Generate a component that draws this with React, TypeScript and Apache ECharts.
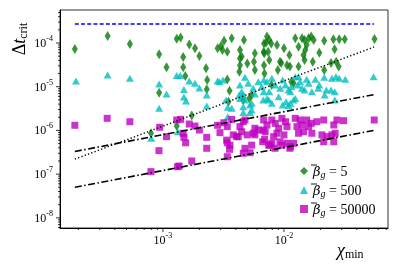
import React, { useEffect, useRef } from 'react';
import * as echarts from 'echarts';

// axis ranges
const X_MIN = 1.41e-4;
const X_MAX = 7.24e-2;
const Y_MIN = 5.85e-9;
const Y_MAX = 5.69e-4;

const xMajorTicks = [1e-3, 1e-2];
const yMajorTicks = [1e-8, 1e-7, 1e-6, 1e-5, 1e-4];
const minorMultipliers = [2, 3, 4, 5, 6, 7, 8, 9];
const xDecades = [1e-4, 1e-3, 1e-2];
const yDecades = [1e-9, 1e-8, 1e-7, 1e-6, 1e-5, 1e-4];

const legendNames = ['5', '500', '50000'];

// beta_g = 5 (green diamonds)
const beta5X = [1.87e-4, 3.49e-4, 5.33e-4, 9.3e-4, 1.07e-3, 9.3e-4, 1.30e-3, 1.40e-3, 1.65e-3, 1.84e-3,
  1.47e-3, 2.0e-3, 1.47e-3, 1.53e-3, 2.27e-3, 2.32e-3, 2.3e-3, 2.83e-3, 1.73e-3, 7.96e-4,
  1.30e-3, 3.02e-3, 3.2e-3, 3.7e-3, 3.4e-3, 3.4e-3, 3.55e-3, 3.48e-3, 4.67e-3, 4.33e-3,
  4.47e-3, 4.33e-3, 4.28e-3, 4.98e-3, 5.75e-3, 5.65e-3, 5.75e-3, 6.84e-3, 6.87e-3, 4.61e-3,
  5.41e-3, 7.24e-3, 7.56e-3, 7.1e-3, 7.85e-3, 8.75e-3, 6.8e-3, 7.4e-3, 1.0e-2, 1.11e-2,
  1.24e-2, 1.32e-2, 1.41e-2, 1.48e-2, 1.6e-2, 1.68e-2, 1.76e-2, 1.54e-2, 1.5e-2, 1.45e-2,
  1.48e-2, 1.73e-2, 1.96e-2, 2.15e-2, 2.56e-2, 2.86e-2, 3.18e-2, 2.62e-2, 2.45e-2, 2.7e-2,
  2.83e-2, 2.15e-2, 1.32e-2, 1.06e-2, 1.12e-2, 9.5e-3, 8.9e-3, 7.56e-3, 6.9e-3, 5.6e-2,
  1.15e-2, 1.2e-2, 7.9e-3, 9.27e-3, 5.17e-3, 3.1e-3, 4.33e-3, 6.84e-3];
const beta5Y = [7.3e-5, 1.45e-4, 9.5e-5, 5.5e-5, 2.78e-5, 7.3e-6, 1.25e-4, 1.34e-4, 9.2e-5, 7.6e-5,
  4.8e-5, 5.04e-5, 2.8e-5, 1.76e-5, 2.64e-5, 1.42e-5, 8.8e-6, 7.6e-5, 2.2e-6, 8.6e-7,
  1.26e-6, 8.5e-5, 1.13e-4, 1.28e-4, 6.3e-5, 1.47e-5, 8.1e-6, 4.5e-6, 1.17e-4, 6.9e-5,
  4.9e-5, 3.1e-5, 2.2e-5, 3.4e-5, 5.8e-5, 3.7e-5, 2.41e-5, 9.8e-5, 5.8e-5, 4.96e-6,
  6.5e-6, 1.4e-4, 1.17e-4, 1.02e-4, 9.8e-5, 9.0e-5, 6.3e-5, 6.3e-5, 7.6e-5, 5.3e-5,
  1.28e-4, 8.2e-5, 1.28e-4, 1.17e-4, 1.28e-4, 1.4e-4, 1.17e-4, 9.0e-5, 6.9e-5, 5.3e-5,
  4.1e-5, 3.7e-5, 6.0e-5, 1.13e-4, 1.22e-4, 1.22e-4, 1.22e-4, 7.2e-5, 3.5e-5, 3.7e-5,
  2.9e-5, 2.41e-5, 2.9e-5, 3.1e-5, 2.9e-5, 3.5e-5, 2.41e-5, 4.1e-5, 2.0e-5, 1.23e-4,
  1.3e-5, 1.2e-5, 1.1e-5, 3.7e-5, 5.4e-6, 6.9e-5, 4.4e-5, 3.1e-5];

// beta_g = 500 (cyan triangles)
const beta500X = [1.91e-4, 3.49e-4, 5.33e-4, 9.3e-4, 1.07e-3, 9.3e-4, 1.30e-3, 1.39e-3, 1.49e-3, 1.49e-3,
  1.55e-3, 1.65e-3, 1.84e-3, 2.0e-3, 2.3e-3, 2.3e-3, 2.83e-3, 8.0e-4, 1.33e-3, 2.93e-3,
  3.13e-3, 3.32e-3, 3.43e-3, 3.43e-3, 3.7e-3, 4.33e-3, 4.47e-3, 4.27e-3, 4.61e-3, 4.76e-3,
  5.07e-3, 5.57e-3, 5.75e-3, 6.13e-3, 5.24e-3, 6.54e-3, 6.74e-3, 4.61e-3, 5.24e-3, 5.41e-3,
  6.8e-3, 7.24e-3, 6.8e-3, 7.56e-3, 7.24e-3, 7.94e-3, 8.47e-3, 9.31e-3, 9.75e-3, 1.03e-2,
  1.09e-2, 1.13e-2, 1.15e-2, 1.24e-2, 1.32e-2, 1.36e-2, 1.30e-2, 1.41e-2, 1.48e-2, 1.54e-2,
  1.6e-2, 1.70e-2, 1.82e-2, 1.96e-2, 2.15e-2, 2.17e-2, 2.49e-2, 2.69e-2, 2.86e-2, 3.21e-2,
  2.45e-2, 2.63e-2, 2.63e-2, 7.48e-3, 9.04e-3, 9.75e-3, 1.04e-2, 1.13e-2, 1.20e-2, 1.24e-2,
  7.94e-3, 1.09e-2, 5.5e-2, 4.33e-3, 4.76e-3, 4.61e-3, 5.41e-3, 1.92e-2, 2.24e-2];
const beta500Y = [1.35e-5, 1.85e-5, 1.56e-5, 1.15e-5, 6.8e-6, 3.2e-6, 1.8e-5, 1.8e-5, 8.6e-6, 5.8e-6,
  4.7e-6, 1.35e-5, 1.2e-5, 9.3e-6, 6.5e-6, 3.6e-6, 1.35e-5, 6.6e-7, 9.3e-7, 1.3e-5,
  1.42e-5, 4.96e-6, 3.4e-6, 2.06e-6, 3.2e-6, 1.1e-5, 7.7e-6, 6.5e-6, 6.5e-6, 1.65e-5,
  1.2e-5, 9.2e-6, 6.8e-6, 1.3e-5, 3.8e-6, 1.0e-5, 4.96e-6, 2.57e-6, 2.57e-6, 4.17e-6,
  1.42e-5, 1.3e-5, 7.7e-6, 7.7e-6, 5.4e-6, 1.56e-5, 1.1e-5, 9.2e-6, 1.42e-5, 1.1e-5,
  8.4e-6, 7.7e-6, 1.0e-5, 1.7e-5, 1.7e-5, 1.3e-5, 1.1e-5, 9.2e-6, 8.4e-6, 1.48e-5,
  1.2e-5, 7.7e-6, 1.48e-5, 1.1e-5, 1.65e-5, 6.5e-6, 1.56e-5, 1.7e-5, 1.56e-5, 1.48e-5,
  8.4e-6, 7.7e-6, 4.96e-6, 4.96e-6, 5.9e-6, 3.8e-6, 4.5e-6, 4.17e-6, 4.96e-6, 5.4e-6,
  4.17e-6, 3.7e-6, 1.7e-5, 5.4e-6, 4.96e-6, 3.5e-6, 2.93e-6, 9.2e-6, 8.4e-6];

// beta_g = 50000 (magenta squares)
const beta50000X = [1.87e-4, 3.46e-4, 5.33e-4, 9.4e-4, 1.07e-3, 9.27e-4, 7.96e-4, 1.30e-3, 1.40e-3, 1.47e-3,
  1.49e-3, 1.54e-3, 1.32e-3, 1.36e-3, 1.65e-3, 1.84e-3, 2.0e-3, 1.73e-3, 2.3e-3, 2.3e-3,
  2.83e-3, 3.19e-3, 3.4e-3, 3.7e-3, 3.4e-3, 3.55e-3, 3.4e-3, 4.33e-3, 4.47e-3, 4.19e-3,
  4.76e-3, 4.98e-3, 5.75e-3, 5.75e-3, 5.41e-3, 4.61e-3, 5.24e-3, 6.74e-3, 6.67e-3, 2.96e-3,
  3.81e-3, 4.06e-3, 3.36e-3, 3.58e-3, 4.61e-3, 4.76e-3, 5.57e-3, 6.13e-3, 6.8e-3, 7.24e-3,
  7.0e-3, 6.92e-3, 7.48e-3, 7.94e-3, 8.47e-3, 9.04e-3, 8.75e-3, 8.22e-3, 7.94e-3, 9.62e-3,
  1.03e-2, 1.06e-2, 1.0e-2, 9.62e-3, 1.06e-2, 1.13e-2, 1.2e-2, 1.24e-2, 1.36e-2, 1.41e-2,
  1.45e-2, 1.28e-2, 1.32e-2, 1.54e-2, 1.68e-2, 1.6e-2, 1.70e-2, 1.87e-2, 2.13e-2, 2.06e-2,
  2.27e-2, 2.49e-2, 2.65e-2, 2.58e-2, 2.74e-2, 3.11e-2, 2.13e-2, 2.58e-2, 5.57e-2, 7.66e-3,
  8.43e-3, 9.27e-3, 1.12e-2];
const beta50000Y = [1.31e-6, 1.89e-6, 1.58e-6, 1.18e-6, 7.2e-7, 3.44e-7, 1.14e-7, 1.73e-6, 1.79e-6, 8.6e-7,
  6.95e-7, 5.2e-7, 1.48e-7, 1.53e-7, 1.40e-6, 1.26e-6, 1.02e-6, 2.0e-7, 6.95e-7, 3.9e-7,
  1.31e-6, 1.5e-6, 1.22e-6, 1.79e-6, 5.2e-7, 3.7e-7, 2.5e-7, 1.22e-6, 9.3e-7, 7.2e-7,
  1.73e-6, 7.9e-7, 1.12e-6, 7.9e-7, 4.6e-7, 3.0e-7, 3.09e-7, 1.02e-6, 5.5e-7, 8.9e-7,
  7.9e-7, 7.2e-7, 6.0e-7, 4.6e-7, 1.58e-6, 3.9e-7, 8.6e-7, 1.02e-6, 1.73e-6, 1.33e-6,
  9.3e-7, 6.25e-7, 4.6e-7, 1.73e-6, 1.45e-6, 1.12e-6, 8.6e-7, 7.2e-7, 5.07e-7, 1.89e-6,
  1.58e-6, 1.22e-6, 7.9e-7, 4.6e-7, 5.07e-7, 4.24e-7, 5.07e-7, 1.89e-6, 1.73e-6, 1.33e-6,
  9.3e-7, 1.22e-6, 8.6e-7, 1.73e-6, 1.45e-6, 1.22e-6, 8.6e-7, 1.58e-6, 1.73e-6, 7.9e-7,
  7.2e-7, 7.9e-7, 8.6e-7, 1.33e-6, 1.73e-6, 1.67e-6, 5.5e-7, 5.5e-7, 1.73e-6, 4.6e-7,
  3.9e-7, 5.5e-7, 3.9e-7];

// reference lines (end points)
const refLineX = [1.87e-4, 5.55e-2];
const dashedBlueY = [2.72e-4, 2.72e-4];
const dottedY = [2.2e-7, 8.1e-5];
const upperDashDotY = [3.3e-7, 6.6e-6];
const lowerDashDotY = [5.0e-8, 1.0e-6];

const SERIF = "'Liberation Serif', 'DejaVu Serif', serif";

const zip = (xs: number[], ys: number[]) => xs.map((x, i) => [x, ys[i]]);

function isPow10(v: number) {
  const l = Math.log10(v);
  return Math.abs(l - Math.round(l)) < 1e-6;
}

function powLabel(v: number) {
  if (!isPow10(v)) return '';
  const e = Math.round(Math.log10(v));
  return `{b|10}{s|${e}}`;
}

// legend layout
const LEG_LEFT = 295;
const LEG_TOP = 159;
const LEG_ROW = 19;

export default function App() {
  const ref = useRef<HTMLDivElement>(null);
  useEffect(() => {
    if (!ref.current) return;
    const chart = echarts.init(ref.current, null, { renderer: 'svg' });

    const xTickData: number[][] = [];
    xMajorTicks.forEach((v) => xTickData.push([v, Y_MIN, 4]));
    xDecades.forEach((d) => minorMultipliers.forEach((m) => {
      const v = d * m;
      if (v > X_MIN && v < X_MAX) xTickData.push([v, Y_MIN, 2]);
    }));
    const yTickData: number[][] = [];
    yMajorTicks.forEach((v) => yTickData.push([X_MIN, v, 4]));
    yDecades.forEach((d) => minorMultipliers.forEach((m) => {
      const v = d * m;
      if (v > Y_MIN && v < Y_MAX) yTickData.push([X_MIN, v, 2]);
    }));

    const labelRich = {
      b: { fontFamily: SERIF, fontSize: 12, color: '#000' },
      s: { fontFamily: SERIF, fontSize: 8, color: '#000', padding: [0, 0, 9, 0] },
    };

    // macrons over the beta symbols of the legend (text decoration)
    const macrons = legendNames.map((_, i) => ({
      type: 'line', z: 100,
      shape: { x1: LEG_LEFT + 16, y1: LEG_TOP + 6 + i * LEG_ROW, x2: LEG_LEFT + 22, y2: LEG_TOP + 6 + i * LEG_ROW },
      style: { stroke: '#000', lineWidth: 0.9 },
    }));

    chart.setOption({
      animation: false,
      grid: { left: 60, right: 11, top: 10, bottom: 38, show: true, borderColor: '#333', borderWidth: 1, outerBoundsMode: 'none' },
      xAxis: {
        type: 'log', min: X_MIN, max: X_MAX, logBase: 10,
        axisLine: { show: true, lineStyle: { color: '#000', width: 1 } },
        axisTick: { show: false },
        splitLine: { show: false },
        minorTick: { show: false },
        axisLabel: { formatter: powLabel, margin: 3, rich: labelRich, showMinLabel: false, showMaxLabel: false },
      },
      yAxis: {
        type: 'log', min: Y_MIN, max: Y_MAX, logBase: 10,
        axisLine: { show: true, lineStyle: { color: '#000', width: 1 } },
        axisTick: { show: false },
        splitLine: { show: false },
        minorTick: { show: false },
        axisLabel: { formatter: powLabel, margin: 7, rich: labelRich, showMinLabel: false, showMaxLabel: false },
      },
      legend: {
        orient: 'vertical', left: LEG_LEFT, top: LEG_TOP, itemWidth: 8, itemHeight: 8, itemGap: 4,
        textStyle: {
          fontFamily: SERIF, fontSize: 14, color: '#000',
          rich: {
            beta: { fontFamily: "'DejaVu Serif', serif", fontSize: 13, fontStyle: 'italic', color: '#000' },
            g: { fontFamily: SERIF, fontSize: 10, fontStyle: 'italic', color: '#000', padding: [6, 0, 0, 0] },
            eq: { fontFamily: SERIF, fontSize: 14, color: '#000' },
          },
        },
        formatter: (name: string) => `{beta|β}{g|g}{eq| = ${name}}`,
        data: [
          { name: legendNames[0], icon: 'diamond' },
          { name: legendNames[1], icon: 'triangle' },
          { name: legendNames[2], icon: 'rect' },
        ],
      },
      graphic: [
        {
          type: 'text', x: 19, y: 39, rotation: Math.PI / 2,
          style: {
            text: '{d|Δ}{t|t}{s|crit}', align: 'center', verticalAlign: 'middle',
            rich: {
              d: { fontFamily: SERIF, fontSize: 18, fill: '#000' },
              t: { fontFamily: SERIF, fontSize: 18, fontStyle: 'italic', fill: '#000' },
              s: { fontFamily: SERIF, fontSize: 12, fill: '#000', padding: [8, 0, 0, 0] },
            },
          },
        },
        {
          type: 'text', x: 337, y: 250,
          style: {
            text: '{c|χ}{s|min}', align: 'left', verticalAlign: 'middle',
            rich: {
              c: { fontFamily: SERIF, fontSize: 18, fontStyle: 'italic', fill: '#000' },
              s: { fontFamily: SERIF, fontSize: 12, fill: '#000', padding: [8, 0, 0, 0] },
            },
          },
        },
        ...macrons,
      ],
      series: [
        {
          name: legendNames[0], type: 'scatter', symbol: 'diamond', symbolSize: [6, 10],
          itemStyle: { color: '#087a08' }, data: zip(beta5X, beta5Y), z: 3,
        },
        {
          name: legendNames[1], type: 'scatter', symbol: 'triangle', symbolSize: [8, 7],
          itemStyle: { color: '#00bfbf' }, data: zip(beta500X, beta500Y), z: 3,
        },
        {
          name: legendNames[2], type: 'scatter', symbol: 'rect', symbolSize: 7,
          itemStyle: { color: '#bf00bf' }, data: zip(beta50000X, beta50000Y), z: 3,
        },
        {
          type: 'line', data: zip(refLineX, dashedBlueY), symbol: 'none', z: 4,
          lineStyle: { color: '#0000ff', width: 1.3, type: [4, 2.2] },
        },
        {
          type: 'line', data: zip(refLineX, dottedY), symbol: 'none', z: 4,
          lineStyle: { color: '#000', width: 1.4, type: [1.3, 2.2] },
        },
        {
          type: 'line', data: zip(refLineX, upperDashDotY), symbol: 'none', z: 4,
          lineStyle: { color: '#000', width: 1.6, type: [7, 2.5, 1.5, 2.5] },
        },
        {
          type: 'line', data: zip(refLineX, lowerDashDotY), symbol: 'none', z: 4,
          lineStyle: { color: '#000', width: 1.6, type: [7, 2.5, 1.5, 2.5] },
        },
        {
          type: 'custom', silent: true, clip: false, encode: { x: 0, y: 1 }, data: xTickData, z: 5,
          renderItem: (params: any, api: any) => {
            const p = api.coord([api.value(0), api.value(1)]);
            const len = api.value(2);
            return { type: 'line', shape: { x1: p[0], y1: p[1], x2: p[0], y2: p[1] + len }, style: { stroke: '#000', lineWidth: 0.8 } };
          },
        },
        {
          type: 'custom', silent: true, clip: false, encode: { x: 0, y: 1 }, data: yTickData, z: 5,
          renderItem: (params: any, api: any) => {
            const p = api.coord([api.value(0), api.value(1)]);
            const len = api.value(2);
            return { type: 'line', shape: { x1: p[0] - len, y1: p[1], x2: p[0], y2: p[1] }, style: { stroke: '#000', lineWidth: 0.8 } };
          },
        },
      ],
    });
    return () => chart.dispose();
  }, []);
  return <div ref={ref} style={{ position: 'fixed', left: 0, top: 0, width: 399, height: 266 }} />;
}
